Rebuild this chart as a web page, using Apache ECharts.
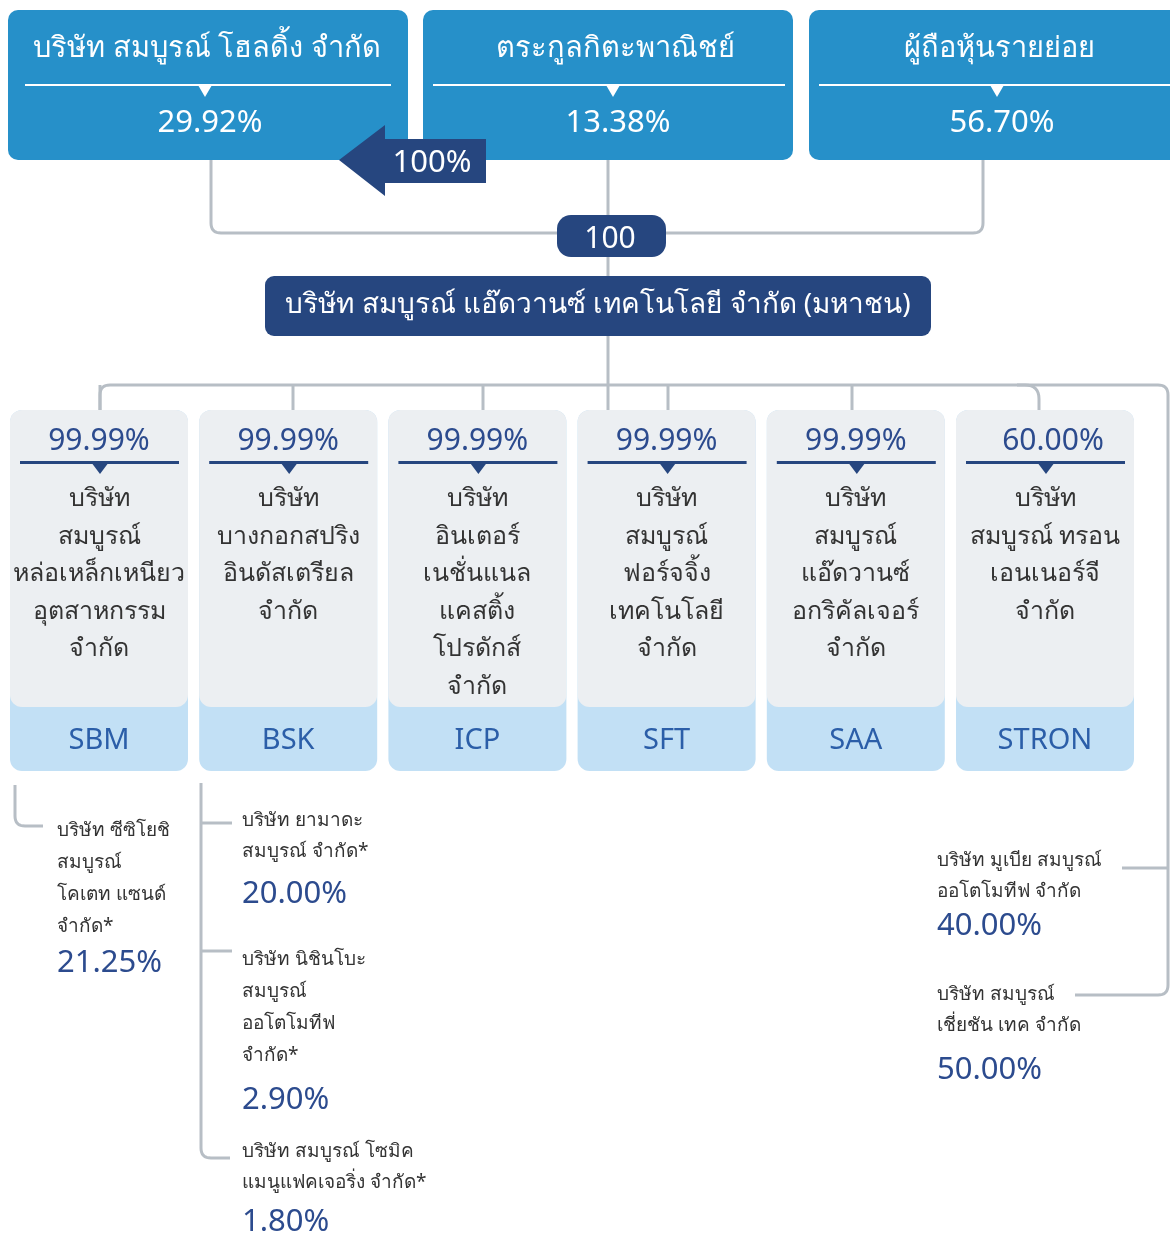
<!DOCTYPE html>
<html>
<head>
<meta charset="utf-8">
<script src="https://cdn.jsdelivr.net/npm/echarts@6/dist/echarts.min.js"></script>
<style>
html, body { margin: 0; padding: 0; background: #fff; }
#main { width: 1170px; height: 1233px; }
</style>
</head>
<body>
<div id="main"></div>
<script>
var chart = echarts.init(document.getElementById('main'));

// ผู้ถือหุ้น
var holderNames = ['บริษัท สมบูรณ์ โฮลดิ้ง จำกัด', 'ตระกูลกิตะพาณิชย์', 'ผู้ถือหุ้นรายย่อย'];
var holderPct = ['29.92%', '13.38%', '56.70%'];
var arrowLabel = '100%';
var parentPct = '100';
var parentName = 'บริษัท สมบูรณ์ แอ๊ดวานซ์ เทคโนโลยี จำกัด (มหาชน)';

// บริษัทย่อย
var subPct = ['99.99%', '99.99%', '99.99%', '99.99%', '99.99%', '60.00%'];
var subCodes = ['SBM', 'BSK', 'ICP', 'SFT', 'SAA', 'STRON'];
var subNames = [
  ['บริษัท', 'สมบูรณ์', 'หล่อเหล็กเหนียว', 'อุตสาหกรรม', 'จำกัด'],
  ['บริษัท', 'บางกอกสปริง', 'อินดัสเตรียล', 'จำกัด'],
  ['บริษัท', 'อินเตอร์', 'เนชั่นแนล', 'แคสติ้ง', 'โปรดักส์', 'จำกัด'],
  ['บริษัท', 'สมบูรณ์', 'ฟอร์จจิ้ง', 'เทคโนโลยี', 'จำกัด'],
  ['บริษัท', 'สมบูรณ์', 'แอ๊ดวานซ์', 'อกริคัลเจอร์', 'จำกัด'],
  ['บริษัท', 'สมบูรณ์ ทรอน', 'เอนเนอร์จี', 'จำกัด']
];

// บริษัทร่วม
var assocNames = [
  ['บริษัท ซีซิโยชิ', 'สมบูรณ์', 'โคเตท แซนด์', 'จำกัด*'],
  ['บริษัท ยามาดะ', 'สมบูรณ์ จำกัด*'],
  ['บริษัท นิชินโบะ', 'สมบูรณ์', 'ออโตโมทีฟ', 'จำกัด*'],
  ['บริษัท สมบูรณ์ โซมิค', 'แมนูแฟคเจอริ่ง จำกัด*'],
  ['บริษัท มูเบีย สมบูรณ์', 'ออโตโมทีฟ จำกัด'],
  ['บริษัท สมบูรณ์', 'เชี่ยชัน เทค จำกัด']
];
var assocPct = ['21.25%', '20.00%', '2.90%', '1.80%', '40.00%', '50.00%'];

// layout
var FONT = '"Noto Sans", "DejaVu Sans", sans-serif';
var BLUE = '#2690c9', NAVY = '#26467f', GREY = '#b7bec5', INK = '#333333';
var topX = [8, 423, 809], topW = [400, 370, 380], topMid = [205, 613, 997];
var topRule = [[25, 391], [433, 785], [819, 1170]];
var subX0 = 10, subStep = 189.2, subW = 178, subTop = 410, subBot = 771;
var dropX = [100, 293, 483, 668, 852];
var assocPos = [[57, 830, 962], [242, 820, 893], [242, 959, 1099], [242, 1151, 1221], [937, 860, 925], [937, 994, 1069]];

var g = [];
function txt(s, x, y, size, color, align) {
  g.push({ type: 'text', z: 10, style: {
    text: s, x: x, y: y + 2, fill: color, font: size + 'px ' + FONT,
    textAlign: align || 'center', textVerticalAlign: 'middle'
  }});
}
// polyline with rounded corners (r px)
function line(pts, r) {
  r = r || 0;
  var out = [pts[0]];
  for (var i = 1; i < pts.length - 1; i++) {
    var p = pts[i], a = pts[i - 1], b = pts[i + 1];
    if (!r) { out.push(p); continue; }
    var da = Math.hypot(a[0] - p[0], a[1] - p[1]), db = Math.hypot(b[0] - p[0], b[1] - p[1]);
    var s = [p[0] + (a[0] - p[0]) * r / da, p[1] + (a[1] - p[1]) * r / da];
    var e = [p[0] + (b[0] - p[0]) * r / db, p[1] + (b[1] - p[1]) * r / db];
    for (var t = 0; t <= 1.0001; t += 0.125) {
      var u = 1 - t;
      out.push([u * u * s[0] + 2 * u * t * p[0] + t * t * e[0], u * u * s[1] + 2 * u * t * p[1] + t * t * e[1]]);
    }
  }
  out.push(pts[pts.length - 1]);
  g.push({ type: 'polyline', z: 1, shape: { points: out }, style: { fill: null, stroke: GREY, lineWidth: 3 } });
}
function tri(cx, y, w, h, color) {
  g.push({ type: 'polygon', z: 5, shape: { points: [[cx - w / 2, y], [cx + w / 2, y], [cx, y + h]] }, style: { fill: color } });
}

// connectors top
line([[211, 160], [211, 233], [983, 233], [983, 160]], 10);
line([[608, 160], [608, 410]]);
line([[100, 410], [100, 385], [1168, 385], [1168, 995], [1075, 995]], 10);
dropX.forEach(function (x) { line([[x, 385], [x, 410]]); });
line([[1017, 385], [1039, 385], [1039, 410]], 14);
line([[1168, 868], [1122, 868]]);
// associate connectors
line([[15, 785], [15, 826], [43, 826]], 10);
line([[201, 783], [201, 1158], [230, 1158]], 10);
line([[201, 823], [232, 823]]);
line([[201, 951], [232, 951]]);

// holders
holderNames.forEach(function (n, i) {
  g.push({ type: 'rect', z: 2, shape: { x: topX[i], y: 10, width: topW[i], height: 150, r: 10 }, style: { fill: BLUE } });
  g.push({ type: 'rect', z: 3, shape: { x: topRule[i][0], y: 84, width: topRule[i][1] - topRule[i][0], height: 2 }, style: { fill: '#ffffff' } });
  tri(topMid[i], 85, 14, 12, '#ffffff');
  txt(n, topMid[i] + 2, 47, 29, '#ffffff');
  txt(holderPct[i], topMid[i] + 5, 121, 31, '#ffffff');
});

// arrow 100%
g.push({ type: 'polygon', z: 6, shape: { points: [[339, 160], [385, 125], [385, 139], [486, 139], [486, 183], [385, 183], [385, 196]] }, style: { fill: NAVY } });
txt(arrowLabel, 432, 161, 31, '#ffffff');

// 100 pill + parent
g.push({ type: 'rect', z: 6, shape: { x: 557, y: 215, width: 109, height: 42, r: 14 }, style: { fill: NAVY } });
txt(parentPct, 610, 237, 30, '#ffffff');
g.push({ type: 'rect', z: 6, shape: { x: 265, y: 276, width: 666, height: 60, r: 9 }, style: { fill: NAVY } });
txt(parentName, 598, 303, 28, '#ffffff');

// subsidiaries
subCodes.forEach(function (c, i) {
  var x = subX0 + i * subStep, cx = x + subW / 2;
  g.push({ type: 'rect', z: 2, shape: { x: x, y: subTop, width: subW, height: subBot - subTop, r: 12 }, style: { fill: '#c2e0f5' } });
  g.push({ type: 'rect', z: 3, shape: { x: x, y: subTop, width: subW, height: 297, r: 12 }, style: { fill: '#eceff2' } });
  txt(subPct[i], cx + (i === 5 ? 8 : 0), 439, 30, '#2c4b8e');
  g.push({ type: 'rect', z: 4, shape: { x: x + 10, y: 461, width: subW - 19, height: 3 }, style: { fill: NAVY } });
  tri(cx + 1, 462, 18, 12, NAVY);
  subNames[i].forEach(function (s, k) { txt(s, cx, 497 + k * 37.5, 25, INK); });
  txt(c, cx, 739, 29, '#2b5ea8');
});

// associates
assocNames.forEach(function (lines, i) {
  var p = assocPos[i];
  var lh = lines.length > 2 ? 32 : 31;
  lines.forEach(function (s, k) { txt(s, p[0], p[1] - 1 + k * lh, 19, INK, 'left'); });
  txt(assocPct[i], p[0], p[2] - 1, 31, '#2c4b8e', 'left');
});

chart.setOption({
  backgroundColor: '#ffffff',
  animation: false,
  graphic: { elements: g }
});

window.addEventListener('resize', function () { chart.resize(); });
</script>
</body>
</html>
